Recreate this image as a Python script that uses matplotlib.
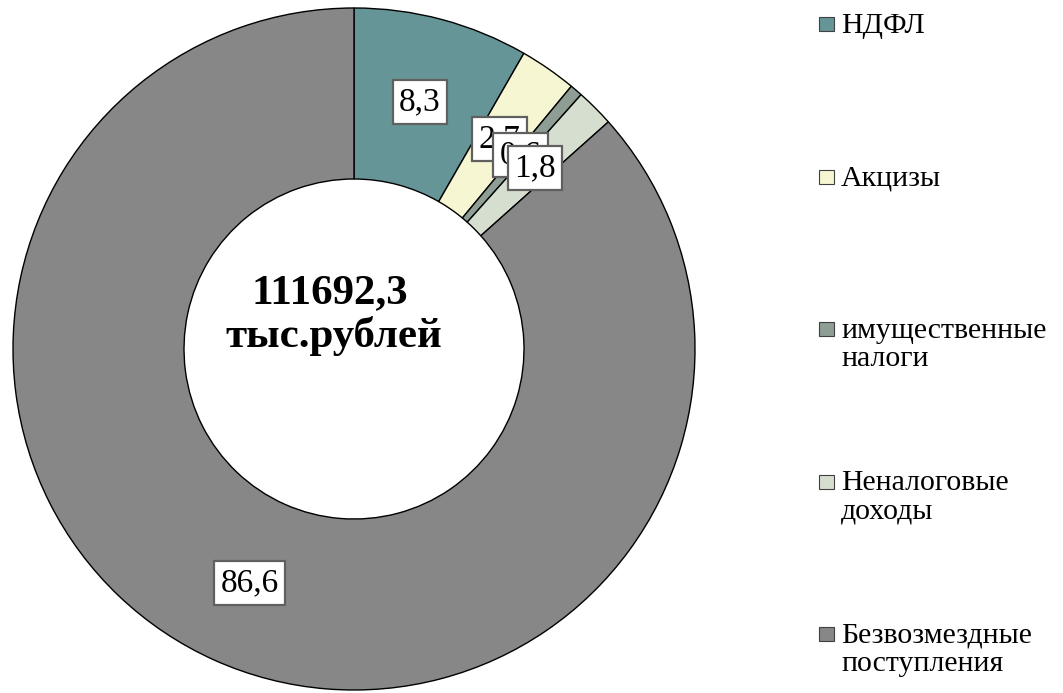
import numpy as np
import matplotlib
matplotlib.use("Agg")
from matplotlib import pyplot as plt
from matplotlib.patches import Rectangle

# data
categories = ["НДФЛ", "Акцизы", "имущественные\nналоги", "Неналоговые\nдоходы",
              "Безвозмездные\nпоступления"]
shares = [8.3, 2.7, 0.6, 1.8, 86.6]
share_labels = ["8,3", "2,7", "0,6", "1,8", "86,6"]
colors = ["#669598", "#F6F6D3", "#8E9E94", "#D6DFCF", "#878787"]
total_text = ["111692,3", "тыс.рублей"]

W, H = 1063, 693
plt.rcParams["font.family"] = ["Liberation Serif", "DejaVu Serif"]

fig = plt.figure(figsize=(W / 100, H / 100), dpi=100)
ax = fig.add_axes([0, 0, 1, 1])
ax.set_aspect("equal")
ax.axis("off")

cx, cy = 354, H - 349
r_out, r_in = 341, 170

wedges, _ = ax.pie(
    shares,
    colors=colors,
    startangle=90,
    counterclock=False,
    radius=r_out,
    center=(cx, cy),
    wedgeprops=dict(width=r_out - r_in, edgecolor="black", linewidth=1),
)
ax.set_xlim(0, W)
ax.set_ylim(0, H)

# value labels in boxes
r_lab = 256
for w, lab in zip(wedges, share_labels):
    ang = np.deg2rad((w.theta1 + w.theta2) / 2)
    ax.text(cx + r_lab * np.cos(ang), cy + r_lab * np.sin(ang), lab,
            ha="center", va="center", fontsize=24,
            bbox=dict(boxstyle="square,pad=0.2", facecolor="white",
                      edgecolor="#606060", linewidth=1.6))

# total in the hole
ax.text(330, H - 303, total_text[0], ha="center", va="baseline",
        fontsize=31, fontweight="bold")
ax.text(334, H - 347, total_text[1], ha="center", va="baseline",
        fontsize=31, fontweight="bold")

# legend, Excel style: marker next to the first line
for i, (name, col) in enumerate(zip(categories, colors)):
    base = 33 + i * 152.5
    ax.add_patch(Rectangle((819, H - base + 2), 15, 14, facecolor=col,
                           edgecolor="#404040", linewidth=0.8))
    for j, line in enumerate(name.split("\n")):
        ax.text(841, H - base - j * 28, line, ha="left", va="baseline",
                fontsize=21.5)

fig.savefig("out.png", dpi=100)
